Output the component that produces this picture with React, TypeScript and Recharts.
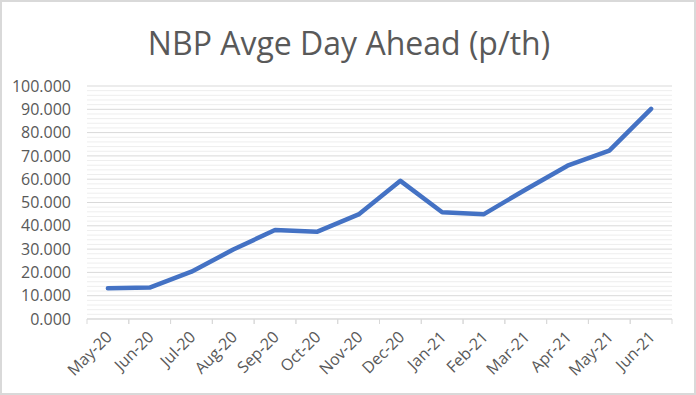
import React from 'react';
import { LineChart, Line, XAxis, YAxis, CartesianGrid, ReferenceLine } from 'recharts';

const months = ['May-20', 'Jun-20', 'Jul-20', 'Aug-20', 'Sep-20', 'Oct-20', 'Nov-20', 'Dec-20', 'Jan-21', 'Feb-21', 'Mar-21', 'Apr-21', 'May-21', 'Jun-21'];
const prices = [13.2, 13.5, 20.3, 29.8, 38.2, 37.4, 44.9, 59.3, 45.8, 45.0, 55.6, 65.8, 72.3, 90.2];
const yTicks = [0, 10, 20, 30, 40, 50, 60, 70, 80, 90, 100];
const minorTicks = [2, 4, 6, 8, 12, 14, 16, 18, 22, 24, 26, 28, 32, 34, 36, 38, 42, 44, 46, 48, 52, 54, 56, 58, 62, 64, 66, 68, 72, 74, 76, 78, 82, 84, 86, 88, 92, 94, 96, 98];

const data = months.map((m, i) => ({ month: m, price: prices[i] }));

const FONT = '"Open Sans", sans-serif';
const GREY = '#595959';

const MonthTick = (props: any) => {
  const { x, y, payload } = props;
  const half = payload && payload.offset ? payload.offset : 20.9;
  return (
    <g>
      <line x1={x - half} y1={y} x2={x - half} y2={y + 5} stroke="#d9d9d9" />
      <line x1={x + half} y1={y} x2={x + half} y2={y + 5} stroke="#d9d9d9" />
      <text
        x={x + 5}
        y={y + 19}
        transform={`rotate(-45 ${x + 5} ${y + 19})`}
        textAnchor="end"
        fill={GREY}
        fontSize={16}
        fontFamily={FONT}
      >
        {payload.value}
      </text>
    </g>
  );
};

export default function App() {
  return (
    <div style={{ position: 'absolute', left: 0, top: 0, width: 696, height: 395, background: '#fff' }}>
      <LineChart width={696} height={395} data={data} margin={{ top: 86, right: 24, bottom: 6, left: 0 }}>
        <CartesianGrid vertical={false} stroke="#d9d9d9" />
        {minorTicks.map((v) => (
          <ReferenceLine key={v} y={v} stroke="#eeeeee" ifOverflow="hidden" />
        ))}
        <XAxis
          dataKey="month"
          scale="band"
          interval={0}
          height={70}
          tickSize={0}
          tickMargin={0}
          axisLine={{ stroke: '#d9d9d9' }}
          tickLine={false}
          tick={<MonthTick />}
        />
        <YAxis
          domain={[0, 100]}
          ticks={yTicks}
          width={87}
          tickSize={0}
          tickMargin={16}
          axisLine={false}
          tickLine={false}
          tickFormatter={(v: number) => v.toFixed(3)}
          tick={{ fill: GREY, fontSize: 16, fontFamily: FONT }}
        />
        <Line
          type="linear"
          dataKey="price"
          stroke="#4472c4"
          strokeWidth={4.5}
          strokeLinejoin="round"
          strokeLinecap="round"
          dot={false}
          activeDot={false}
          isAnimationActive={false}
        />
      </LineChart>
      <svg width={696} height={395} style={{ position: 'absolute', left: 0, top: 0, pointerEvents: 'none' }}>
        <text x={349} y={55} textAnchor="middle" fill={GREY} fontSize={32} fontFamily={FONT}>
          NBP Avge Day Ahead (p/th)
        </text>
        <rect x={1} y={1} width={694} height={393} fill="none" stroke="#d9d9d9" strokeWidth={2} />
      </svg>
    </div>
  );
}
